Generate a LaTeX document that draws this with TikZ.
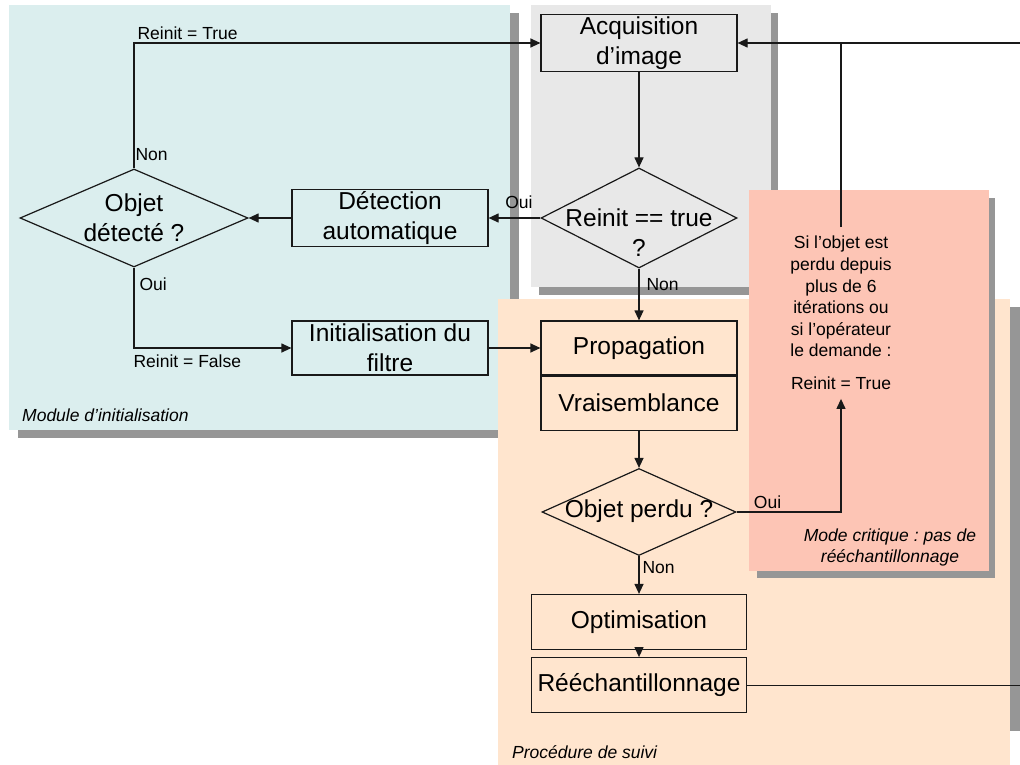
\documentclass[tikz,border=0pt]{standalone}
\usepackage{fontspec}
\setmainfont{Liberation Sans}
\frenchspacing
\usetikzlibrary{arrows.meta,positioning,shapes.geometric}
\definecolor{flowdiagblue}{RGB}{219,238,238}
\definecolor{flowdiaggray}{RGB}{232,232,232}
\definecolor{flowdiagpeach}{RGB}{255,229,206}
\definecolor{flowdiagrose}{RGB}{253,197,181}
\definecolor{flowdiagshadow}{RGB}{150,150,150}
\definecolor{flowdiagdark}{RGB}{25,25,25}
\tikzset{
  flow panel/.style={
    fill=#1,
    draw=none,
  },
  flow shadow/.style={
    fill=flowdiagshadow,
    draw=none,
  },
  flow box/.style={
    draw=flowdiagdark,
    line width=1.2pt,
    minimum width=196pt,
    minimum height=54pt,
    inner sep=2pt,
    align=center,
    font=\fontsize{24.5}{30}\selectfont,
  },
  flow test/.style={
    diamond,
    draw=flowdiagdark,
    line width=1.2pt,
    inner sep=0pt,
  },
  flow text/.style={
    align=center,
    inner sep=0pt,
    font=\fontsize{24.5}{30}\selectfont,
  },
  flow note/.style={
    align=center,
    inner sep=9pt,
    font=\fontsize{17.5}{21.6}\selectfont,
  },
  flow label/.style={
    inner sep=0pt,
    font=\fontsize{17.5}{21}\selectfont,
  },
  flow caption/.style={
    inner sep=0pt,
    align=center,
    font=\fontsize{17.5}{21}\selectfont\itshape,
  },
  flow arrow/.style={
    -{Triangle[length=10pt,width=9pt]},
    line width=1.2pt,
    draw=flowdiagdark,
  },
  flow line/.style={
    line width=1.2pt,
    draw=flowdiagdark,
  },
}

\begin{document}
\begin{tikzpicture}[x=1pt,y=-1pt]
  \useasboundingbox (0,0) rectangle (1020,765);

  % panels with their shadows
  \fill[flow shadow] (18,13) rectangle (519,438);
  \fill[flow panel=flowdiagblue] (9,5) rectangle (510,430);
  \fill[flow shadow] (539,13) rectangle (778,295);
  \fill[flow panel=flowdiaggray] (531,5) rectangle (771,287);
  \fill[flow shadow] (507,307) rectangle (1020,731);
  \fill[flow panel=flowdiagpeach] (498,299) rectangle (1010,765);
  \fill[flow shadow] (757,198) rectangle (995,578);
  \fill[flow panel=flowdiagrose] (749,190) rectangle (989,571);

  \node[flow caption, anchor=base west] (initcaption) at (22,421) {Module d’initialisation};
  \node[flow caption, anchor=base west] (suivicaption) at (512,758) {Procédure de suivi};
  \node[flow caption] (critcaption) at (890,547) {Mode critique : pas de\\rééchantillonnage};

  % main column
  \node[flow box] (acq) at (639,43) {Acquisition\\d’image};
  \node[flow test, minimum width=196pt, minimum height=100pt] (reinit) at (639,218) {};
  \node[flow text] (reinittext) at (639,233) {Reinit == true\\?};
  \node[flow box] (prop) at (639,348) {Propagation};
  \node[flow box, below=0pt of prop] (vrais) {Vraisemblance};
  \node[flow test, minimum width=194pt, minimum height=87pt] (lost) at (639,512) {};
  \node[flow text] (losttext) at (639,511) {Objet perdu ?};
  \node[flow box, minimum width=215pt, minimum height=55pt] (optim) at (639,622) {Optimisation};
  \node[flow box, minimum width=215pt, minimum height=55pt, below=7pt of optim] (reech) {Rééchantillonnage};

  % initialisation module
  \node[flow box, minimum height=55pt] (detect) at (390,218) {Détection\\automatique};
  \node[flow test, minimum width=228pt, minimum height=98pt] (found) at (134,218) {};
  \node[flow text] (foundtext) at (134,218) {Objet\\détecté ?};
  \node[flow box] (initf) at (390,348) {Initialisation du\\filtre};

  % critical mode
  \node[flow note] (critnote) at (841,313)
    {Si l’objet est\\perdu depuis\\plus de 6\\itérations ou\\si l’opérateur\\le demande :\\[11pt]Reinit = True};

  \coordinate (loopback) at ([xshift=300pt]reech.east);

  \draw[flow arrow] (acq) -- (reinit);
  \draw[flow arrow] (reinit.west) -- node[flow label, pos=0.415, anchor=base, yshift=10pt] {Oui} (detect.east);
  \draw[flow arrow] (reinit.south) -- node[flow label, pos=0.415, anchor=base west, xshift=7pt] {Non} (prop.north);
  \draw[flow arrow] (detect.west) -- (found.east);
  \draw[flow arrow] (found.north) |- node[flow label, pos=0.032, anchor=base west, xshift=1pt] {Non}
    node[flow label, pos=0.5, anchor=base west, xshift=3pt, yshift=3pt] {Reinit = True} (acq.west);
  \draw[flow arrow] (found.south) |- node[flow label, pos=0.14, anchor=base west, xshift=5pt] {Oui}
    node[flow label, pos=0.5, anchor=base west, xshift=-1pt, yshift=-19pt] {Reinit = False} (initf.west);
  \draw[flow arrow] (initf.east) -- (prop.west);
  \draw[flow arrow] (vrais.south) -- (lost.north);
  \draw[flow arrow] (lost.east) -| node[flow label, pos=0.08, anchor=base west, yshift=4pt] {Oui} (critnote.south);
  \draw[flow arrow] (lost.south) -- node[flow label, pos=0.45, anchor=base west, xshift=3pt] {Non} (optim.north);
  \draw[flow arrow] (optim.south) -- (reech.north);
  \draw[flow arrow] (reech.east) -- (loopback) |- (acq.east);
  \draw[flow line] (critnote.north) -- (critnote.north |- acq.east);
\end{tikzpicture}
\end{document}
